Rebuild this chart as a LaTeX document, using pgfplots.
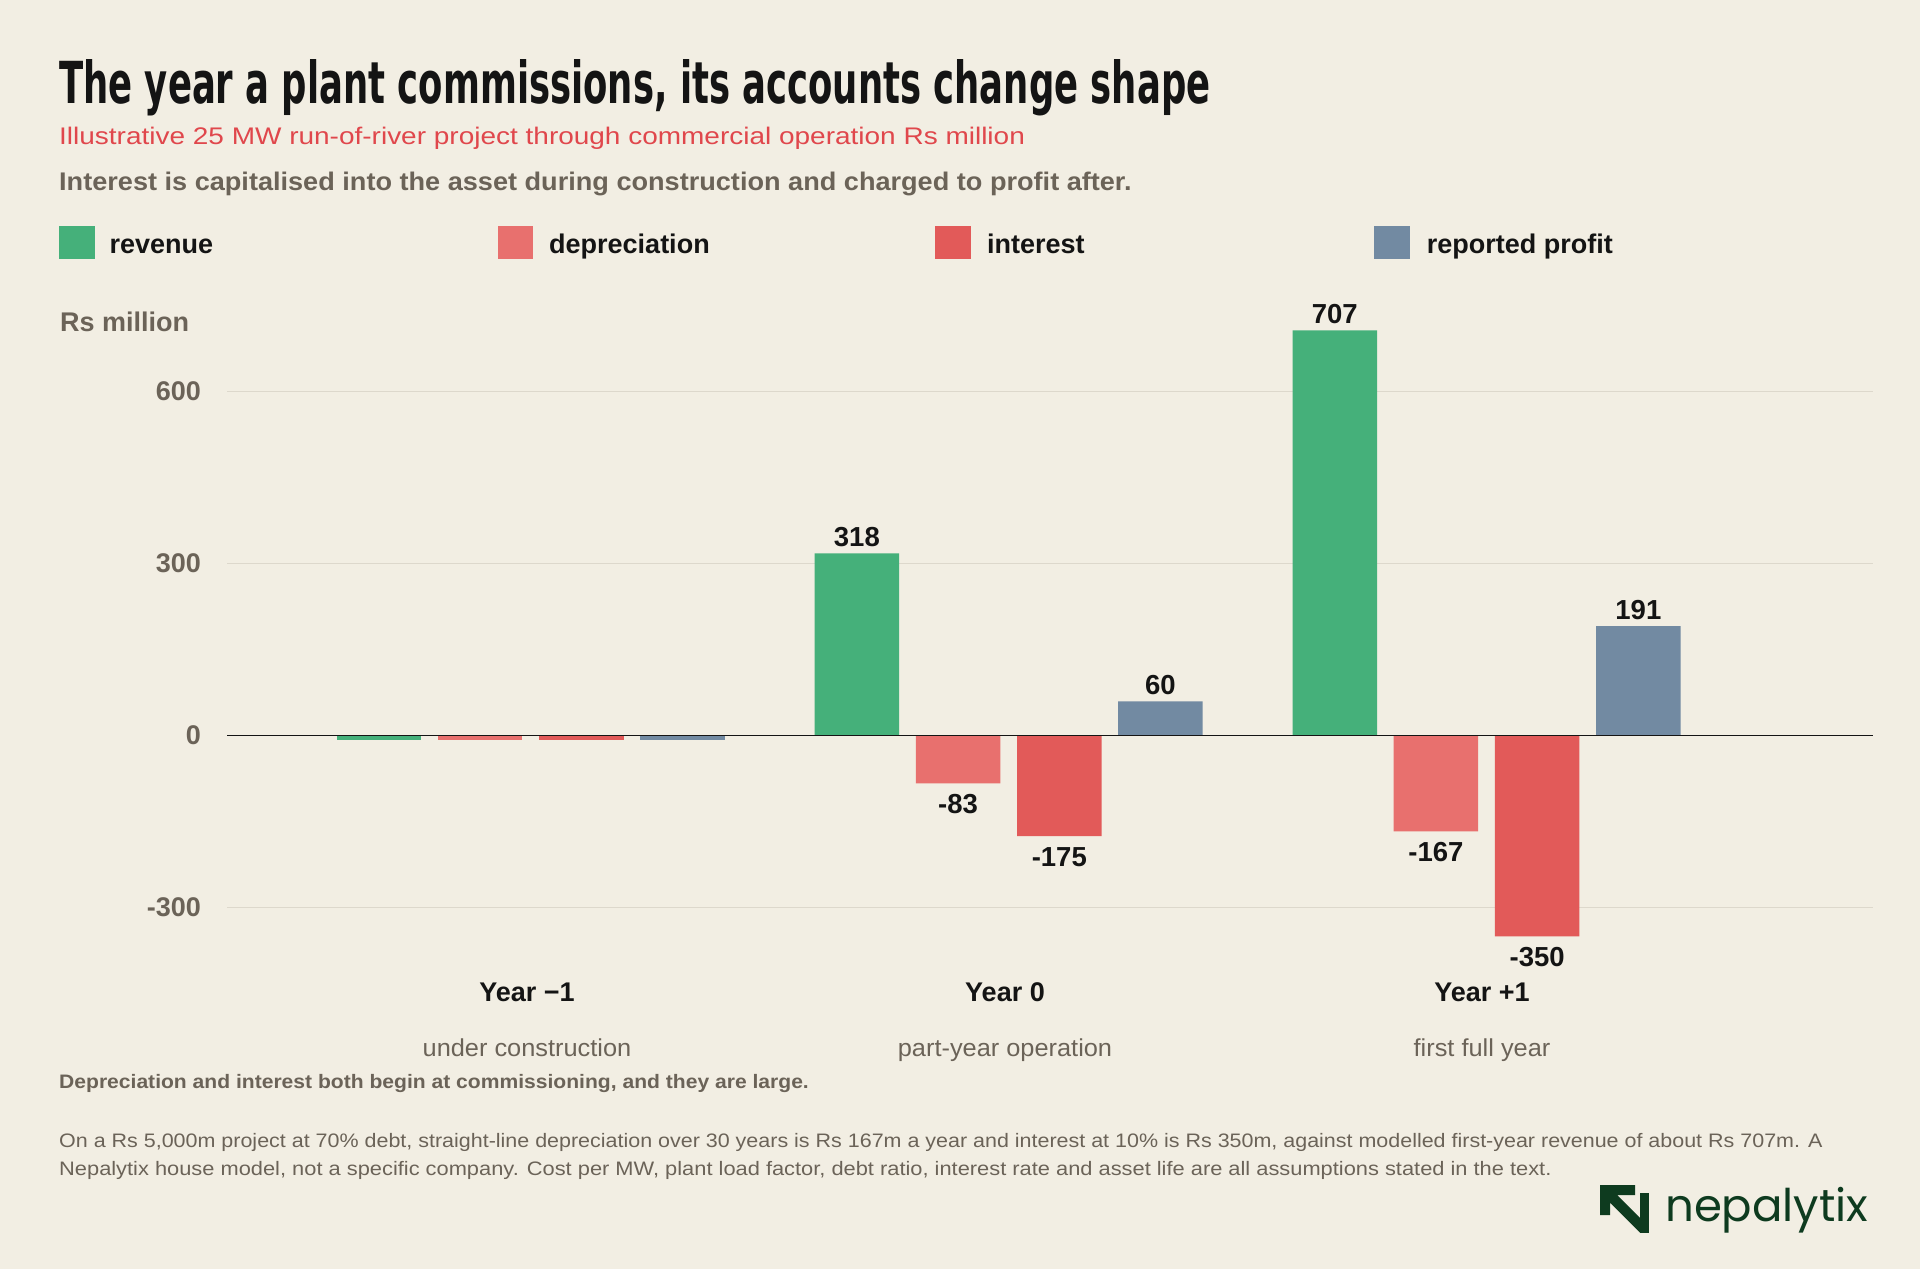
\documentclass[border=0pt]{standalone}
\usepackage{fontspec}
\setmainfont{Liberation Sans}
\newfontfamily\titlefont{DejaVu Sans Condensed Bold}
\newfontfamily\logofont{Poppins}
\usepackage{pgfplots}
\usepackage{pgfplotstable}
\pgfplotsset{compat=1.18}
\definecolor{bg}{HTML}{F2EEE3}
\definecolor{cRev}{HTML}{45B07A}
\definecolor{cDep}{HTML}{E8706E}
\definecolor{cInt}{HTML}{E25A59}
\definecolor{cPro}{HTML}{728AA2}
\definecolor{txtgray}{HTML}{6B6358}
\definecolor{subred}{HTML}{E0474C}
\definecolor{gridc}{HTML}{DDD8CC}
\definecolor{ink}{HTML}{141414}
\definecolor{logo}{HTML}{0E3B1F}

\pgfplotstableread{
x revenue depreciation interest profit
0 -8 -8 -8 -8
1 318 -83 -175 60
2 707 -167 -350 191
}\data

\begin{document}
\begin{tikzpicture}
\useasboundingbox (0,0) rectangle (1920pt,-1269pt);
\fill[bg] (0,0) rectangle (1920pt,-1269pt);

% titles
\node[anchor=base west, inner sep=0pt, text=ink] at (59pt,-103pt)
  {\resizebox{1151pt}{44pt}{\titlefont The year a plant commissions, its accounts change shape}};
\node[anchor=base west, inner sep=0pt, text=subred, font=\fontsize{24}{28}\selectfont] at (59pt,-144pt)
  {\scalebox{1.166}[1]{Illustrative 25 MW run-of-river project through commercial operation Rs million}};
\node[anchor=base west, inner sep=0pt, text=txtgray, font=\fontsize{25.5}{30}\selectfont\bfseries] at (59pt,-190pt)
  {\scalebox{1.063}[1]{Interest is capitalised into the asset during construction and charged to profit after.}};

% legend
\fill[cRev] (59pt,-226pt) rectangle (94.5pt,-259pt);
\fill[cDep] (497.5pt,-226pt) rectangle (533pt,-259pt);
\fill[cInt] (935pt,-226pt) rectangle (970.5pt,-259pt);
\fill[cPro] (1374pt,-226pt) rectangle (1409.5pt,-259pt);
\begin{scope}[every node/.style={anchor=base west, inner sep=0pt, text=ink, font=\fontsize{27}{31}\selectfont\bfseries}]
\node at (109.5pt,-253pt) {revenue};
\node at (549pt,-253pt) {depreciation};
\node at (987pt,-253pt) {interest};
\node at (1426.7pt,-253pt) {reported profit};
\end{scope}

\node[anchor=base west, inner sep=0pt, text=txtgray, font=\fontsize{27}{31}\selectfont\bfseries] at (60pt,-331.7pt) {Rs million};

\begin{axis}[
  at={(227pt,-965pt)}, anchor=south west,
  scale only axis, width=1646.2pt, height=642.1pt,
  xmin=-0.6357, xmax=2.809, ymin=-400, ymax=720,
  clip=false,
  axis line style={draw=none},
  xtick=\empty,
  ytick={-300,0,300,600},
  ymajorgrids, grid style={color=gridc, line width=1.3pt},
  major tick length=0pt,
  /pgf/number format/assume math mode=true,
  /pgf/number format/fixed,
  yticklabel style={font=\fontsize{27}{31}\selectfont\bfseries, text=txtgray, anchor=east, inner sep=0pt, xshift=-26pt},
  bar width=84.5pt,
  every node near coord/.append style={font=\fontsize{27.5}{31}\selectfont\bfseries, text=ink, inner sep=0pt},
]
% Year -1 stubs (no labels)
\addplot[ybar, draw=none, fill=cRev, bar shift=-151.8pt, restrict x to domain=-0.5:0.5] table[x=x,y=revenue]{\data};
\addplot[ybar, draw=none, fill=cDep, bar shift=-50.6pt, restrict x to domain=-0.5:0.5] table[x=x,y=depreciation]{\data};
\addplot[ybar, draw=none, fill=cInt, bar shift=50.6pt, restrict x to domain=-0.5:0.5] table[x=x,y=interest]{\data};
\addplot[ybar, draw=none, fill=cPro, bar shift=151.8pt, restrict x to domain=-0.5:0.5] table[x=x,y=profit]{\data};
% Year 0 and +1 with labels
\addplot[ybar, draw=none, fill=cRev, bar shift=-151.8pt, restrict x to domain=0.5:2.5,
  nodes near coords, every node near coord/.append style={anchor=south, xshift=-151.8pt, yshift=6pt}] table[x=x,y=revenue]{\data};
\addplot[ybar, draw=none, fill=cDep, bar shift=-50.6pt, restrict x to domain=0.5:2.5,
  nodes near coords, every node near coord/.append style={anchor=north, xshift=-50.6pt, yshift=-11pt}] table[x=x,y=depreciation]{\data};
\addplot[ybar, draw=none, fill=cInt, bar shift=50.6pt, restrict x to domain=0.5:2.5,
  nodes near coords, every node near coord/.append style={anchor=north, xshift=50.6pt, yshift=-11pt}] table[x=x,y=interest]{\data};
\addplot[ybar, draw=none, fill=cPro, bar shift=151.8pt, restrict x to domain=0.5:2.5,
  nodes near coords, every node near coord/.append style={anchor=south, xshift=151.8pt, yshift=6pt}] table[x=x,y=profit]{\data};
% zero line
\addplot[ink, line width=1.6pt] coordinates {(-0.6357,0) (2.809,0)};
\end{axis}

% category labels
\begin{scope}[every node/.style={anchor=base, inner sep=0pt, text=ink, font=\fontsize{27}{31}\selectfont\bfseries}]
\node at (527pt,-1001pt) {Year −1};
\node at (1005pt,-1001pt) {Year 0};
\node at (1482pt,-1001pt) {Year +1};
\end{scope}
\begin{scope}[every node/.style={anchor=base, inner sep=0pt, text=txtgray, font=\fontsize{24.5}{29}\selectfont}]
\node at (527pt,-1056pt) {\scalebox{1.035}[1]{under construction}};
\node at (1005pt,-1056pt) {\scalebox{1.035}[1]{part-year operation}};
\node at (1482pt,-1056pt) {\scalebox{1.035}[1]{first full year}};
\end{scope}

% notes
\node[anchor=base west, inner sep=0pt, text=txtgray, font=\fontsize{19.5}{23}\selectfont\bfseries] at (59pt,-1088pt)
  {\scalebox{1.081}[1]{Depreciation and interest both begin at commissioning, and they are large.}};
\node[anchor=base west, inner sep=0pt, text=txtgray, font=\fontsize{19.5}{23}\selectfont] at (59pt,-1147pt)
  {\scalebox{1.101}[1]{On a Rs 5,000m project at 70\% debt, straight-line depreciation over 30 years is Rs 167m a year and interest at 10\% is Rs 350m, against modelled first-year revenue of about Rs 707m. A}};
\node[anchor=base west, inner sep=0pt, text=txtgray, font=\fontsize{19.5}{23}\selectfont] at (59pt,-1175pt)
  {\scalebox{1.12}[1]{Nepalytix house model, not a specific company. Cost per MW, plant load factor, debt ratio, interest rate and asset life are all assumptions stated in the text.}};

% logo
\begin{scope}[shift={(1550pt,-1150pt)}, x=0.33333pt, y=-0.33333pt]
\fill[logo] (150,105) -- (255,105) -- (255,135) -- (201,135) -- (270,204) -- (270,248) -- (180,158) -- (180,195) -- (150,195) -- cycle;
\fill[logo] (270,130) rectangle (297,248);
\end{scope}
\node[anchor=base west, inner sep=0pt, text=logo] at (1665pt,-1221.7pt) {\resizebox{203pt}{!}{\logofont nepalytix}};
\end{tikzpicture}
\end{document}
